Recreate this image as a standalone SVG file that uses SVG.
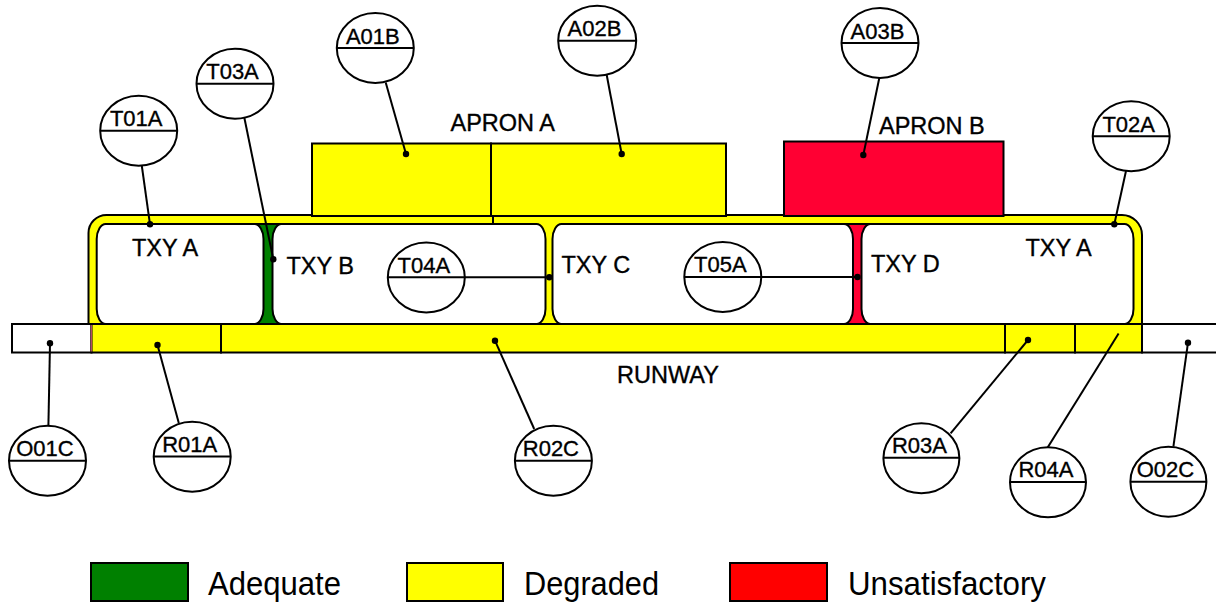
<svg xmlns="http://www.w3.org/2000/svg" width="1216" height="602" viewBox="0 0 1216 602">
<style>
.o{stroke:#000;stroke-width:2}
.y{fill:#ffff00}
.g{fill:#008000}
.r{fill:#ff0033}
.w{fill:#fff}
.box{fill:#fff;stroke:#000;stroke-width:2}
.lbl{font-family:"Liberation Sans",Arial,sans-serif;font-size:23.5px;fill:#000;stroke:#000;stroke-width:0.35}
.bt{font-family:"Liberation Sans",Arial,sans-serif;font-size:22px;fill:#000;text-anchor:middle;stroke:#000;stroke-width:0.35}
.bub ellipse{fill:#fff;stroke:#000;stroke-width:2}
.bub line{stroke:#000;stroke-width:2}
#connectors line{stroke:#000;stroke-width:2}
.dot{fill:#000}
.leg{font-family:"Liberation Sans",Arial,sans-serif;font-size:33px;fill:#000}
</style>
<rect width="1216" height="602" fill="#fff"/>

<g id="taxiway">
  <path class="y o" d="M88.5,325 V233 A18,18 0 0 1 106.5,215 H1122 A20,20 0 0 1 1142,235 V325 Z"/>
  <line x1="493" y1="215" x2="493" y2="224" stroke="#000" stroke-width="2"/>
  <rect id="txy-b-connector" class="g o" x="250" y="224" width="36" height="100"/>
  <rect id="txy-d-connector" class="r o" x="840" y="224" width="35" height="100"/>
  <rect class="box" x="96.7" y="224" width="166.8" height="100" rx="9" ry="15"/>
  <rect class="box" x="272.5" y="224" width="273" height="100" rx="9" ry="15"/>
  <rect class="box" x="552.5" y="224" width="300.5" height="100" rx="9" ry="15"/>
  <rect class="box" x="861.5" y="224" width="272" height="100" rx="9" ry="15"/>
  <text class="lbl" x="132" y="256">TXY A</text>
  <text class="lbl" x="286.5" y="274.3">TXY B</text>
  <text class="lbl" x="561.5" y="273.3">TXY C</text>
  <text class="lbl" x="871" y="271.7">TXY D</text>
  <text class="lbl" x="1025.5" y="256">TXY A</text>
</g>

<g id="aprons">
  <rect id="apron-a1" class="y o" x="312" y="143.5" width="179" height="72.5"/>
  <rect id="apron-a2" class="y o" x="491" y="143.5" width="235" height="72.5"/>
  <rect id="apron-b" class="r o" x="784" y="141.5" width="219.5" height="74.5"/>
  <text class="lbl" x="450.5" y="130.7">APRON A</text>
  <text class="lbl" x="879" y="134">APRON B</text>
</g>

<g id="runway">
  <rect class="w o" x="12" y="324" width="79.5" height="28.5"/>
  <rect class="y o" x="91.5" y="324" width="129.5" height="28.5"/>
  <rect class="y o" x="221" y="324" width="784" height="28.5"/>
  <rect class="y o" x="1005" y="324" width="70" height="28.5"/>
  <rect class="y o" x="1075" y="324" width="67" height="28.5"/>
  <rect class="w o" x="1142" y="324" width="80" height="28.5"/>
  <line x1="91.3" y1="325" x2="91.3" y2="351.5" stroke="#e0607a" stroke-width="1"/>
  <text class="lbl" x="617" y="383.3">RUNWAY</text>
</g>

<g id="connectors">
  <line x1="141.7" y1="165" x2="150" y2="224.3"/>
  <line x1="244.3" y1="117.5" x2="273.3" y2="259.3"/>
  <line x1="385.7" y1="82.5" x2="406" y2="154"/>
  <line x1="606.7" y1="75" x2="621.7" y2="154"/>
  <line x1="879.3" y1="78" x2="863.3" y2="155"/>
  <line x1="1126" y1="171" x2="1114.3" y2="224.3"/>
  <line x1="465" y1="277.3" x2="549.3" y2="277.3"/>
  <line x1="761.5" y1="277" x2="857.5" y2="277"/>
  <line x1="48.4" y1="426" x2="50" y2="343.3"/>
  <line x1="178.8" y1="423" x2="157.5" y2="345"/>
  <line x1="534.2" y1="429" x2="495" y2="340.7"/>
  <line x1="950.6" y1="433.3" x2="1028" y2="340"/>
  <line x1="1047.8" y1="447.3" x2="1118.6" y2="333.5"/>
  <line x1="1173.4" y1="446.7" x2="1188" y2="342.7"/>
  <circle class="dot" cx="150" cy="224.3" r="3.2"/>
  <circle class="dot" cx="273.3" cy="259.3" r="3.2"/>
  <circle class="dot" cx="406" cy="154" r="3.2"/>
  <circle class="dot" cx="621.7" cy="154" r="3.2"/>
  <circle class="dot" cx="863.3" cy="155" r="3.2"/>
  <circle class="dot" cx="1114.3" cy="224.3" r="3.2"/>
  <circle class="dot" cx="549.3" cy="277.3" r="3.2"/>
  <circle class="dot" cx="857.5" cy="277" r="3.2"/>
  <circle class="dot" cx="50" cy="343.3" r="3.2"/>
  <circle class="dot" cx="157.5" cy="345" r="3.2"/>
  <circle class="dot" cx="495" cy="340.7" r="3.2"/>
  <circle class="dot" cx="1028" cy="340" r="3.2"/>
  <circle class="dot" cx="1188" cy="342.7" r="3.2"/>
</g>

<g id="T01A" class="bub"><ellipse cx="138.7" cy="130.8" rx="38.5" ry="35"/><line x1="100.2" y1="130.8" x2="177.2" y2="130.8"/><text class="bt" x="136.2" y="126.3">T01A</text></g>
<g id="T03A" class="bub"><ellipse cx="235" cy="83.7" rx="38.5" ry="35"/><line x1="196.5" y1="83.7" x2="273.5" y2="83.7"/><text class="bt" x="232.5" y="79.2">T03A</text></g>
<g id="A01B" class="bub"><ellipse cx="375.3" cy="48" rx="38.5" ry="35"/><line x1="336.8" y1="48" x2="413.8" y2="48"/><text class="bt" x="372.8" y="43.5">A01B</text></g>
<g id="A02B" class="bub"><ellipse cx="597.2" cy="40.7" rx="39" ry="35"/><line x1="558.2" y1="40.7" x2="636.2" y2="40.7"/><text class="bt" x="594.5" y="36.2">A02B</text></g>
<g id="A03B" class="bub"><ellipse cx="880" cy="43" rx="38.5" ry="35"/><line x1="841.5" y1="43" x2="918.5" y2="43"/><text class="bt" x="877.5" y="38.5">A03B</text></g>
<g id="T02A" class="bub"><ellipse cx="1131.2" cy="136.3" rx="38.5" ry="35"/><line x1="1092.7" y1="136.3" x2="1169.7" y2="136.3"/><text class="bt" x="1128.7" y="131.8">T02A</text></g>
<g id="T04A" class="bub"><ellipse cx="426.3" cy="277.5" rx="38.5" ry="35"/><line x1="387.8" y1="277.3" x2="464.8" y2="277.3"/><text class="bt" x="423.8" y="272.5">T04A</text></g>
<g id="T05A" class="bub"><ellipse cx="722.8" cy="277" rx="38.5" ry="35"/><line x1="684.3" y1="277" x2="761.3" y2="277"/><text class="bt" x="720.3" y="272.3">T05A</text></g>
<g id="O01C" class="bub"><ellipse cx="47.5" cy="460.8" rx="38.5" ry="35"/><line x1="9" y1="460.8" x2="86" y2="460.8"/><text class="bt" x="45" y="456.2">O01C</text></g>
<g id="R01A" class="bub"><ellipse cx="192.2" cy="456.7" rx="38.5" ry="35"/><line x1="153.7" y1="456.5" x2="230.7" y2="456.5"/><text class="bt" x="189.7" y="452.2">R01A</text></g>
<g id="R02C" class="bub"><ellipse cx="553.4" cy="460.8" rx="38.5" ry="35"/><line x1="514.9" y1="460.8" x2="591.9" y2="460.8"/><text class="bt" x="550.9" y="456">R02C</text></g>
<g id="R03A" class="bub"><ellipse cx="921.4" cy="458.3" rx="38" ry="35"/><line x1="883.4" y1="457.7" x2="959.4" y2="457.7"/><text class="bt" x="919.4" y="452.8">R03A</text></g>
<g id="R04A" class="bub"><ellipse cx="1048" cy="482.3" rx="38" ry="35"/><line x1="1010" y1="481.9" x2="1086" y2="481.9"/><text class="bt" x="1046" y="476.8">R04A</text></g>
<g id="O02C" class="bub"><ellipse cx="1168.4" cy="481.7" rx="38" ry="35"/><line x1="1130.4" y1="481.7" x2="1206.4" y2="481.7"/><text class="bt" x="1165.4" y="476.8">O02C</text></g>

<g id="legend">
  <g id="legend-adequate"><rect x="91" y="563" width="97" height="38" fill="#008000" class="o"/><text class="leg" x="208" y="595" textLength="133" lengthAdjust="spacingAndGlyphs">Adequate</text></g>
  <g id="legend-degraded"><rect x="407" y="563" width="96" height="38" fill="#ffff00" class="o"/><text class="leg" x="524" y="595" textLength="135" lengthAdjust="spacingAndGlyphs">Degraded</text></g>
  <g id="legend-unsatisfactory"><rect x="730" y="563" width="97" height="38" fill="#ff0000" class="o"/><text class="leg" x="848" y="595" textLength="198" lengthAdjust="spacingAndGlyphs">Unsatisfactory</text></g>
</g>
</svg>
